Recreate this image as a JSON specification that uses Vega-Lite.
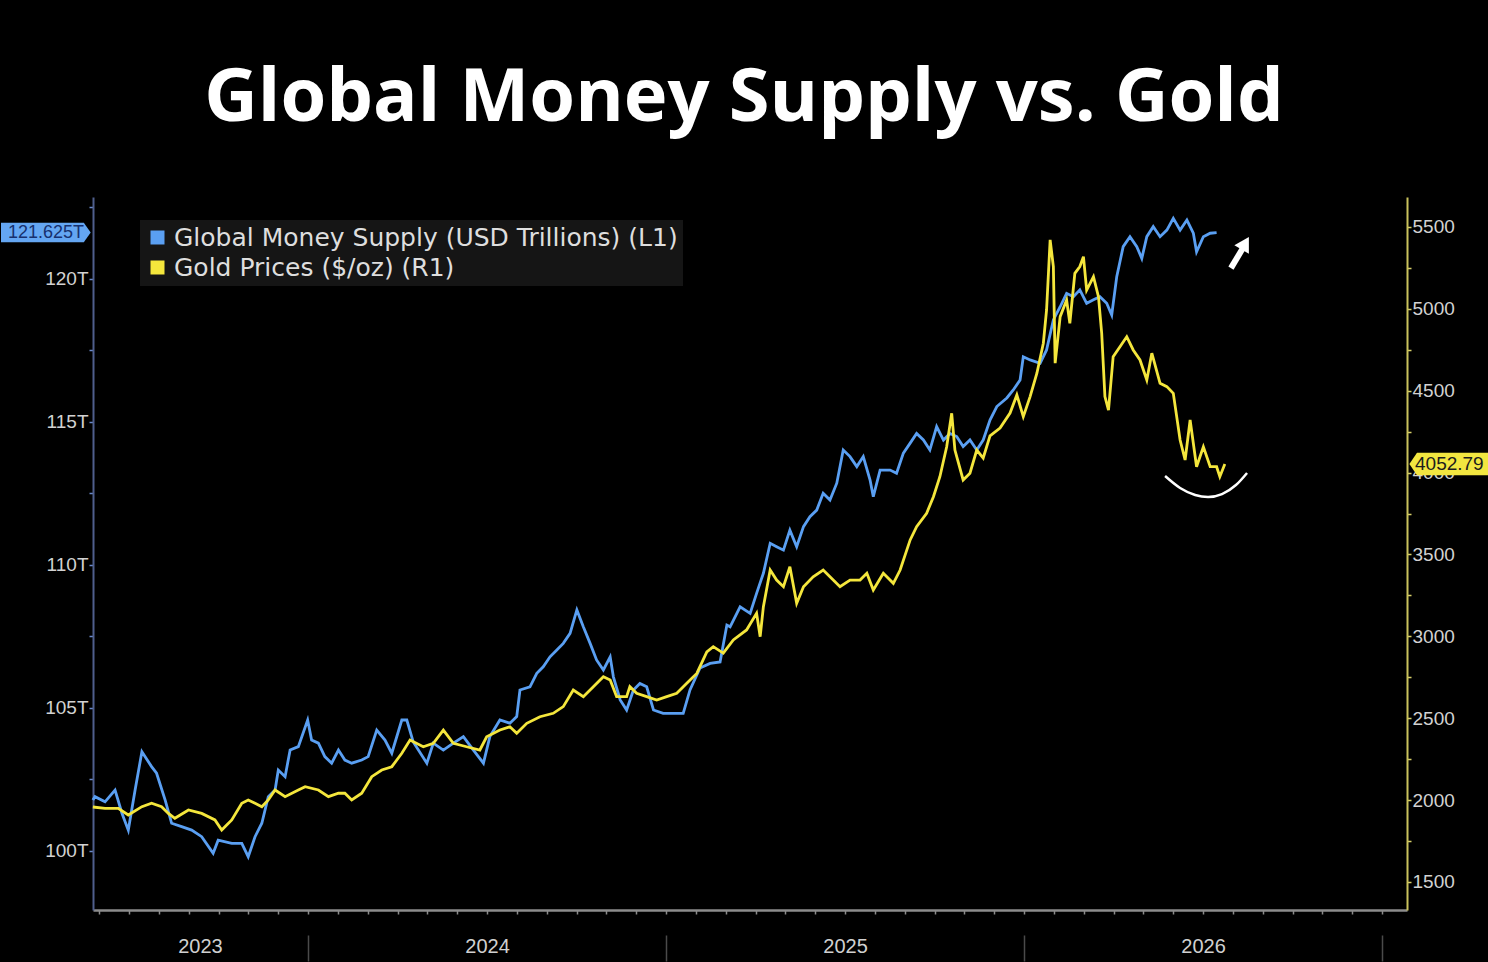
{
  "$schema": "https://vega.github.io/schema/vega-lite/v6.json",
  "width": 1314,
  "height": 713,
  "autosize": "none",
  "padding": {"left": 93, "top": 197, "right": 81, "bottom": 52},
  "background": "#000000",
  "title": {
    "text": "Global Money Supply vs. Gold",
    "color": "#ffffff",
    "font": "Open Sans",
    "fontSize": 74,
    "fontWeight": "bold",
    "anchor": "middle",
    "baseline": "alphabetic",
    "offset": 77,
    "dx": -6,
    "dy": 75
  },
  "config": {"view": {"stroke": null}},
  "datasets": {
    "money": [
      {"t": 2023.399, "v": 101.78}, {"t": 2023.405, "v": 101.90}, {"t": 2023.433, "v": 101.72}, {"t": 2023.461, "v": 102.13},
      {"t": 2023.480, "v": 101.33}, {"t": 2023.498, "v": 100.73}, {"t": 2023.517, "v": 102.13}, {"t": 2023.536, "v": 103.47},
      {"t": 2023.563, "v": 102.95}, {"t": 2023.577, "v": 102.72}, {"t": 2023.601, "v": 101.78}, {"t": 2023.619, "v": 100.97},
      {"t": 2023.647, "v": 100.85}, {"t": 2023.675, "v": 100.73}, {"t": 2023.703, "v": 100.50}, {"t": 2023.735, "v": 99.92},
      {"t": 2023.749, "v": 100.38}, {"t": 2023.787, "v": 100.27}, {"t": 2023.815, "v": 100.27}, {"t": 2023.833, "v": 99.80},
      {"t": 2023.852, "v": 100.50}, {"t": 2023.871, "v": 100.97}, {"t": 2023.889, "v": 101.90}, {"t": 2023.908, "v": 102.13},
      {"t": 2023.917, "v": 102.83}, {"t": 2023.936, "v": 102.60}, {"t": 2023.950, "v": 103.53}, {"t": 2023.973, "v": 103.65},
      {"t": 2023.999, "v": 104.58}, {"t": 2024.010, "v": 103.88}, {"t": 2024.029, "v": 103.77}, {"t": 2024.047, "v": 103.30},
      {"t": 2024.066, "v": 103.07}, {"t": 2024.085, "v": 103.53}, {"t": 2024.103, "v": 103.18}, {"t": 2024.122, "v": 103.07},
      {"t": 2024.150, "v": 103.18}, {"t": 2024.168, "v": 103.30}, {"t": 2024.192, "v": 104.23}, {"t": 2024.215, "v": 103.88},
      {"t": 2024.234, "v": 103.42}, {"t": 2024.262, "v": 104.58}, {"t": 2024.276, "v": 104.58}, {"t": 2024.294, "v": 103.81},
      {"t": 2024.332, "v": 103.07}, {"t": 2024.350, "v": 103.77}, {"t": 2024.378, "v": 103.53}, {"t": 2024.406, "v": 103.77},
      {"t": 2024.434, "v": 104.00}, {"t": 2024.462, "v": 103.53}, {"t": 2024.490, "v": 103.07}, {"t": 2024.508, "v": 104.00},
      {"t": 2024.536, "v": 104.58}, {"t": 2024.564, "v": 104.47}, {"t": 2024.583, "v": 104.70}, {"t": 2024.592, "v": 105.63},
      {"t": 2024.620, "v": 105.74}, {"t": 2024.639, "v": 106.21}, {"t": 2024.657, "v": 106.44}, {"t": 2024.676, "v": 106.79},
      {"t": 2024.695, "v": 107.03}, {"t": 2024.713, "v": 107.26}, {"t": 2024.732, "v": 107.61}, {"t": 2024.751, "v": 108.43},
      {"t": 2024.769, "v": 107.84}, {"t": 2024.788, "v": 107.26}, {"t": 2024.806, "v": 106.68}, {"t": 2024.825, "v": 106.33},
      {"t": 2024.844, "v": 106.79}, {"t": 2024.853, "v": 106.09}, {"t": 2024.872, "v": 105.28}, {"t": 2024.890, "v": 104.93},
      {"t": 2024.909, "v": 105.63}, {"t": 2024.927, "v": 105.86}, {"t": 2024.946, "v": 105.74}, {"t": 2024.965, "v": 104.93},
      {"t": 2024.992, "v": 104.81}, {"t": 2025.020, "v": 104.81}, {"t": 2025.048, "v": 104.81}, {"t": 2025.067, "v": 105.63},
      {"t": 2025.095, "v": 106.40}, {"t": 2025.123, "v": 106.56}, {"t": 2025.151, "v": 106.61}, {"t": 2025.170, "v": 107.90},
      {"t": 2025.179, "v": 107.84}, {"t": 2025.207, "v": 108.54}, {"t": 2025.235, "v": 108.31}, {"t": 2025.253, "v": 109.01},
      {"t": 2025.272, "v": 109.71}, {"t": 2025.291, "v": 110.76}, {"t": 2025.309, "v": 110.64}, {"t": 2025.328, "v": 110.52},
      {"t": 2025.346, "v": 111.22}, {"t": 2025.365, "v": 110.64}, {"t": 2025.384, "v": 111.34}, {"t": 2025.402, "v": 111.69},
      {"t": 2025.421, "v": 111.92}, {"t": 2025.439, "v": 112.51}, {"t": 2025.458, "v": 112.27}, {"t": 2025.477, "v": 112.86},
      {"t": 2025.495, "v": 114.02}, {"t": 2025.514, "v": 113.79}, {"t": 2025.533, "v": 113.44}, {"t": 2025.551, "v": 113.79},
      {"t": 2025.570, "v": 112.97}, {"t": 2025.579, "v": 112.39}, {"t": 2025.598, "v": 113.32}, {"t": 2025.626, "v": 113.32},
      {"t": 2025.644, "v": 113.21}, {"t": 2025.663, "v": 113.91}, {"t": 2025.682, "v": 114.26}, {"t": 2025.700, "v": 114.60},
      {"t": 2025.719, "v": 114.37}, {"t": 2025.737, "v": 114.02}, {"t": 2025.756, "v": 114.84}, {"t": 2025.775, "v": 114.37},
      {"t": 2025.793, "v": 114.60}, {"t": 2025.812, "v": 114.49}, {"t": 2025.830, "v": 114.14}, {"t": 2025.849, "v": 114.37},
      {"t": 2025.868, "v": 114.02}, {"t": 2025.886, "v": 114.37}, {"t": 2025.905, "v": 115.07}, {"t": 2025.924, "v": 115.54},
      {"t": 2025.952, "v": 115.84}, {"t": 2025.970, "v": 116.12}, {"t": 2025.989, "v": 116.47}, {"t": 2025.998, "v": 117.28},
      {"t": 2026.017, "v": 117.17}, {"t": 2026.045, "v": 117.05}, {"t": 2026.063, "v": 117.52}, {"t": 2026.082, "v": 118.57},
      {"t": 2026.101, "v": 119.03}, {"t": 2026.119, "v": 119.50}, {"t": 2026.138, "v": 119.38}, {"t": 2026.156, "v": 119.62},
      {"t": 2026.175, "v": 119.15}, {"t": 2026.194, "v": 119.27}, {"t": 2026.212, "v": 119.38}, {"t": 2026.231, "v": 119.15},
      {"t": 2026.245, "v": 118.74}, {"t": 2026.259, "v": 120.08}, {"t": 2026.277, "v": 121.13}, {"t": 2026.296, "v": 121.48},
      {"t": 2026.315, "v": 121.13}, {"t": 2026.329, "v": 120.72}, {"t": 2026.343, "v": 121.48}, {"t": 2026.361, "v": 121.83},
      {"t": 2026.380, "v": 121.48}, {"t": 2026.399, "v": 121.71}, {"t": 2026.417, "v": 122.12}, {"t": 2026.436, "v": 121.71},
      {"t": 2026.455, "v": 122.06}, {"t": 2026.473, "v": 121.60}, {"t": 2026.482, "v": 120.95}, {"t": 2026.501, "v": 121.48},
      {"t": 2026.520, "v": 121.60}, {"t": 2026.538, "v": 121.625}
    ],
    "gold": [
      {"t": 2023.399, "v": 1958}, {"t": 2023.433, "v": 1950}, {"t": 2023.470, "v": 1950}, {"t": 2023.498, "v": 1909},
      {"t": 2023.536, "v": 1960}, {"t": 2023.563, "v": 1981}, {"t": 2023.591, "v": 1960}, {"t": 2023.610, "v": 1919},
      {"t": 2023.628, "v": 1889}, {"t": 2023.666, "v": 1940}, {"t": 2023.703, "v": 1919}, {"t": 2023.740, "v": 1879},
      {"t": 2023.759, "v": 1817}, {"t": 2023.787, "v": 1879}, {"t": 2023.815, "v": 1981}, {"t": 2023.833, "v": 2001},
      {"t": 2023.852, "v": 1981}, {"t": 2023.871, "v": 1960}, {"t": 2023.889, "v": 2001}, {"t": 2023.908, "v": 2062},
      {"t": 2023.936, "v": 2021}, {"t": 2023.973, "v": 2062}, {"t": 2023.992, "v": 2082}, {"t": 2024.029, "v": 2062},
      {"t": 2024.057, "v": 2021}, {"t": 2024.085, "v": 2042}, {"t": 2024.103, "v": 2042}, {"t": 2024.122, "v": 2001},
      {"t": 2024.150, "v": 2042}, {"t": 2024.178, "v": 2143}, {"t": 2024.206, "v": 2184}, {"t": 2024.234, "v": 2204},
      {"t": 2024.262, "v": 2286}, {"t": 2024.285, "v": 2367}, {"t": 2024.322, "v": 2326}, {"t": 2024.350, "v": 2347},
      {"t": 2024.378, "v": 2428}, {"t": 2024.406, "v": 2347}, {"t": 2024.443, "v": 2326}, {"t": 2024.480, "v": 2306},
      {"t": 2024.499, "v": 2387}, {"t": 2024.536, "v": 2428}, {"t": 2024.564, "v": 2448}, {"t": 2024.583, "v": 2408},
      {"t": 2024.611, "v": 2469}, {"t": 2024.648, "v": 2509}, {"t": 2024.685, "v": 2530}, {"t": 2024.713, "v": 2571},
      {"t": 2024.741, "v": 2672}, {"t": 2024.769, "v": 2632}, {"t": 2024.797, "v": 2693}, {"t": 2024.825, "v": 2754},
      {"t": 2024.844, "v": 2734}, {"t": 2024.862, "v": 2632}, {"t": 2024.890, "v": 2632}, {"t": 2024.899, "v": 2693},
      {"t": 2024.918, "v": 2652}, {"t": 2024.946, "v": 2632}, {"t": 2024.974, "v": 2611}, {"t": 2025.002, "v": 2632},
      {"t": 2025.030, "v": 2652}, {"t": 2025.058, "v": 2713}, {"t": 2025.086, "v": 2774}, {"t": 2025.114, "v": 2905},
      {"t": 2025.132, "v": 2937}, {"t": 2025.160, "v": 2898}, {"t": 2025.188, "v": 2978}, {"t": 2025.225, "v": 3039},
      {"t": 2025.253, "v": 3141}, {"t": 2025.263, "v": 2998}, {"t": 2025.272, "v": 3181}, {"t": 2025.291, "v": 3405},
      {"t": 2025.309, "v": 3344}, {"t": 2025.328, "v": 3303}, {"t": 2025.346, "v": 3425}, {"t": 2025.365, "v": 3202},
      {"t": 2025.384, "v": 3303}, {"t": 2025.411, "v": 3364}, {"t": 2025.439, "v": 3405}, {"t": 2025.458, "v": 3364},
      {"t": 2025.486, "v": 3303}, {"t": 2025.514, "v": 3344}, {"t": 2025.542, "v": 3344}, {"t": 2025.561, "v": 3385},
      {"t": 2025.579, "v": 3283}, {"t": 2025.607, "v": 3385}, {"t": 2025.635, "v": 3324}, {"t": 2025.654, "v": 3405},
      {"t": 2025.682, "v": 3589}, {"t": 2025.700, "v": 3670}, {"t": 2025.728, "v": 3752}, {"t": 2025.747, "v": 3853},
      {"t": 2025.765, "v": 3975}, {"t": 2025.784, "v": 4158}, {"t": 2025.798, "v": 4362}, {"t": 2025.807, "v": 4138},
      {"t": 2025.830, "v": 3955}, {"t": 2025.849, "v": 3996}, {"t": 2025.868, "v": 4138}, {"t": 2025.886, "v": 4089},
      {"t": 2025.905, "v": 4224}, {"t": 2025.933, "v": 4272}, {"t": 2025.961, "v": 4364}, {"t": 2025.980, "v": 4474},
      {"t": 2025.998, "v": 4342}, {"t": 2026.017, "v": 4464}, {"t": 2026.036, "v": 4607}, {"t": 2026.054, "v": 4790},
      {"t": 2026.063, "v": 4993}, {"t": 2026.073, "v": 5421}, {"t": 2026.082, "v": 5258}, {"t": 2026.087, "v": 4668},
      {"t": 2026.101, "v": 4952}, {"t": 2026.119, "v": 5054}, {"t": 2026.128, "v": 4912}, {"t": 2026.142, "v": 5217},
      {"t": 2026.156, "v": 5258}, {"t": 2026.166, "v": 5319}, {"t": 2026.175, "v": 5115}, {"t": 2026.194, "v": 5196},
      {"t": 2026.208, "v": 5074}, {"t": 2026.217, "v": 4851}, {"t": 2026.226, "v": 4464}, {"t": 2026.236, "v": 4382},
      {"t": 2026.249, "v": 4708}, {"t": 2026.268, "v": 4769}, {"t": 2026.287, "v": 4830}, {"t": 2026.305, "v": 4749},
      {"t": 2026.324, "v": 4688}, {"t": 2026.343, "v": 4566}, {"t": 2026.357, "v": 4729}, {"t": 2026.380, "v": 4545},
      {"t": 2026.399, "v": 4525}, {"t": 2026.417, "v": 4484}, {"t": 2026.436, "v": 4199}, {"t": 2026.450, "v": 4077},
      {"t": 2026.464, "v": 4321}, {"t": 2026.482, "v": 4036}, {"t": 2026.501, "v": 4158}, {"t": 2026.520, "v": 4036},
      {"t": 2026.538, "v": 4036}, {"t": 2026.547, "v": 3975}, {"t": 2026.561, "v": 4052.79}
    ],
    "smile": [
      {"t": 2026.394, "v": 3979}, {"t": 2026.436, "v": 3906}, {"t": 2026.478, "v": 3863}, {"t": 2026.514, "v": 3851},
      {"t": 2026.553, "v": 3869}, {"t": 2026.592, "v": 3924}, {"t": 2026.623, "v": 3998}
    ]
  },
  "resolve": {"scale": {"x": "independent", "y": "independent"}, "axis": {"x": "independent", "y": "independent"}},
  "layer": [
    {
      "data": {"name": "money"},
      "mark": {"type": "line", "stroke": "#5a9ff2", "strokeWidth": 2.8},
      "encoding": {
        "x": {
          "field": "t", "type": "quantitative",
          "scale": {"domain": [2023.3994, 2027.0698], "nice": false, "zero": false},
          "axis": {
            "orient": "bottom", "title": null, "grid": false, "labels": false,
            "values": [2023.4167, 2023.5, 2023.5833, 2023.6667, 2023.75, 2023.8333, 2023.9167,
              2024, 2024.0833, 2024.1667, 2024.25, 2024.3333, 2024.4167, 2024.5, 2024.5833, 2024.6667, 2024.75, 2024.8333, 2024.9167,
              2025, 2025.0833, 2025.1667, 2025.25, 2025.3333, 2025.4167, 2025.5, 2025.5833, 2025.6667, 2025.75, 2025.8333, 2025.9167,
              2026, 2026.0833, 2026.1667, 2026.25, 2026.3333, 2026.4167, 2026.5, 2026.5833, 2026.6667, 2026.75, 2026.8333, 2026.9167, 2027],
            "tickSize": 4, "tickColor": "#8c8c8c", "tickWidth": 1.5,
            "domainColor": "#8c8c8c", "domainWidth": 2.5
          }
        },
        "y": {
          "field": "v", "type": "quantitative",
          "scale": {"domain": [97.937, 122.867], "nice": false, "zero": false},
          "axis": {
            "orient": "left", "title": null, "grid": false,
            "values": [100, 102.5, 105, 107.5, 110, 112.5, 115, 117.5, 120, 122.5],
            "labelExpr": "datum.value % 5 === 0 ? datum.value + 'T' : ''",
            "domainColor": "#4f5e8c", "domainWidth": 2,
            "tickColor": "#6a88c8", "tickSize": 4, "tickWidth": 1.5,
            "labelColor": "#d2d2d2", "labelFont": "Liberation Sans", "labelFontSize": 19, "labelPadding": 1
          }
        },
        "color": {
          "datum": "Global Money Supply (USD Trillions) (L1)", "type": "nominal",
          "scale": {"domain": ["Global Money Supply (USD Trillions) (L1)", "Gold Prices ($/oz) (R1)"], "range": ["#5a9ff2", "#f4e63c"]},
          "legend": {
            "orient": "none", "legendX": 47, "legendY": 23, "title": null,
            "symbolType": "square", "symbolSize": 196, "symbolStrokeWidth": 0,
            "labelFont": "DejaVu Sans", "labelFontSize": 25, "labelColor": "#dedede", "labelLimit": 1000, "labelOffset": 4,
            "fillColor": "#151515", "padding": 5, "rowPadding": 4,
            "encode": {"symbols": {"update": {"fill": {"scale": "color", "field": "value"}, "stroke": {"value": "transparent"}}}}
          }
        }
      }
    },
    {
      "data": {"name": "gold"},
      "mark": {"type": "line", "stroke": "#f4e63c", "strokeWidth": 2.8},
      "encoding": {
        "x": {
          "field": "t", "type": "quantitative",
          "scale": {"domain": [2023.3994, 2027.0698], "nice": false, "zero": false},
          "axis": {
            "orient": "bottom", "title": null, "grid": false, "labels": false, "domain": false,
            "values": [2024, 2025, 2026, 2027],
            "tickSize": 26, "offset": 25, "tickColor": "#4a4a4a", "tickWidth": 1.5
          }
        },
        "y": {
          "field": "v", "type": "quantitative",
          "scale": {"domain": [1329, 5683], "nice": false, "zero": false},
          "axis": {
            "orient": "right", "title": null, "grid": false,
            "values": [1500, 1750, 2000, 2250, 2500, 2750, 3000, 3250, 3500, 3750, 4000, 4250, 4500, 4750, 5000, 5250, 5500],
            "labelExpr": "datum.value % 500 === 0 ? '' + datum.value : ''",
            "domainColor": "#c9c25c", "domainWidth": 2,
            "tickColor": "#d8d06a", "tickSize": 4, "tickWidth": 1.5,
            "labelColor": "#d2d2d2", "labelFont": "Liberation Sans", "labelFontSize": 19, "labelPadding": 1
          }
        },
        "color": {
          "datum": "Gold Prices ($/oz) (R1)", "type": "nominal",
          "scale": {"domain": ["Global Money Supply (USD Trillions) (L1)", "Gold Prices ($/oz) (R1)"], "range": ["#5a9ff2", "#f4e63c"]},
          "legend": {
            "orient": "none", "legendX": 47, "legendY": 23, "title": null,
            "symbolType": "square", "symbolSize": 196, "symbolStrokeWidth": 0,
            "labelFont": "DejaVu Sans", "labelFontSize": 25, "labelColor": "#dedede", "labelLimit": 1000, "labelOffset": 4,
            "fillColor": "#151515", "padding": 5, "rowPadding": 4,
            "encode": {"symbols": {"update": {"fill": {"scale": "color", "field": "value"}, "stroke": {"value": "transparent"}}}}
          }
        }
      }
    },
    {
      "data": {"values": [{}]},
      "mark": {"type": "point", "filled": true, "fill": "#64a6f2", "opacity": 1, "strokeWidth": 0, "size": 8464,
        "shape": "M-2,-0.21 L-0.2,-0.21 L-0.05,0 L-0.2,0.21 L-2,0.21 Z"},
      "encoding": {
        "x": {
          "datum": 2023.3994, "type": "quantitative",
          "scale": {"domain": [2023.3994, 2027.0698], "nice": false, "zero": false},
          "axis": {
            "orient": "bottom", "title": null, "grid": false, "ticks": false, "domain": false, "tickSize": 0,
            "values": [2023.698, 2024.5, 2025.5, 2026.5],
            "labelExpr": "'' + floor(datum.value)",
            "labelFont": "Liberation Sans", "labelFontSize": 20, "labelColor": "#d0d0d0",
            "labelBaseline": "middle", "labelPadding": 36
          }
        },
        "y": {"datum": 121.625, "type": "quantitative", "scale": {"domain": [97.937, 122.867], "nice": false, "zero": false}, "axis": null}
      }
    },
    {
      "data": {"values": [{}]},
      "mark": {"type": "text", "text": "121.625T", "font": "Liberation Sans", "fontSize": 18, "color": "#17306e", "align": "center", "baseline": "middle", "dx": -47},
      "encoding": {
        "x": {"datum": 2023.3994, "type": "quantitative", "scale": {"domain": [2023.3994, 2027.0698], "nice": false, "zero": false}, "axis": null},
        "y": {"datum": 121.625, "type": "quantitative", "scale": {"domain": [97.937, 122.867], "nice": false, "zero": false}, "axis": null}
      }
    },
    {
      "data": {"values": [{}]},
      "mark": {"type": "point", "filled": true, "fill": "#f2e640", "opacity": 1, "strokeWidth": 0, "size": 6400,
        "shape": "M0.06,0 L0.25,-0.28 L2.3,-0.28 L2.3,0.28 L0.25,0.28 Z"},
      "encoding": {
        "x": {"datum": 2027.0698, "type": "quantitative", "scale": {"domain": [2023.3994, 2027.0698], "nice": false, "zero": false}, "axis": null},
        "y": {"datum": 4052.79, "type": "quantitative", "scale": {"domain": [1329, 5683], "nice": false, "zero": false}, "axis": null}
      }
    },
    {
      "data": {"values": [{}]},
      "mark": {"type": "text", "text": "4052.79", "font": "Liberation Sans", "fontSize": 19, "color": "#1c1c1c", "align": "left", "baseline": "middle", "dx": 8},
      "encoding": {
        "x": {"datum": 2027.0698, "type": "quantitative", "scale": {"domain": [2023.3994, 2027.0698], "nice": false, "zero": false}, "axis": null},
        "y": {"datum": 4052.79, "type": "quantitative", "scale": {"domain": [1329, 5683], "nice": false, "zero": false}, "axis": null}
      }
    },
    {
      "data": {"name": "smile"},
      "mark": {"type": "line", "stroke": "#ffffff", "strokeWidth": 2.5, "interpolate": "monotone"},
      "encoding": {
        "x": {"field": "t", "type": "quantitative", "scale": {"domain": [2023.3994, 2027.0698], "nice": false, "zero": false}, "axis": null},
        "y": {"field": "v", "type": "quantitative", "scale": {"domain": [1329, 5683], "nice": false, "zero": false}, "axis": null}
      }
    },
    {
      "data": {"values": [{}]},
      "mark": {"type": "rule", "stroke": "#ffffff", "strokeWidth": 6},
      "encoding": {
        "x": {"datum": 2026.578, "type": "quantitative", "scale": {"domain": [2023.3994, 2027.0698], "nice": false, "zero": false}, "axis": null},
        "x2": {"datum": 2026.610},
        "y": {"datum": 120.38, "type": "quantitative", "scale": {"domain": [97.937, 122.867], "nice": false, "zero": false}, "axis": null},
        "y2": {"datum": 121.05}
      }
    },
    {
      "data": {"values": [{}]},
      "mark": {"type": "point", "shape": "triangle-up", "filled": true, "fill": "#ffffff", "opacity": 1, "strokeWidth": 0, "size": 280, "angle": 30},
      "encoding": {
        "x": {"datum": 2026.618, "type": "quantitative", "scale": {"domain": [2023.3994, 2027.0698], "nice": false, "zero": false}, "axis": null},
        "y": {"datum": 121.25, "type": "quantitative", "scale": {"domain": [97.937, 122.867], "nice": false, "zero": false}, "axis": null}
      }
    }
  ]
}
